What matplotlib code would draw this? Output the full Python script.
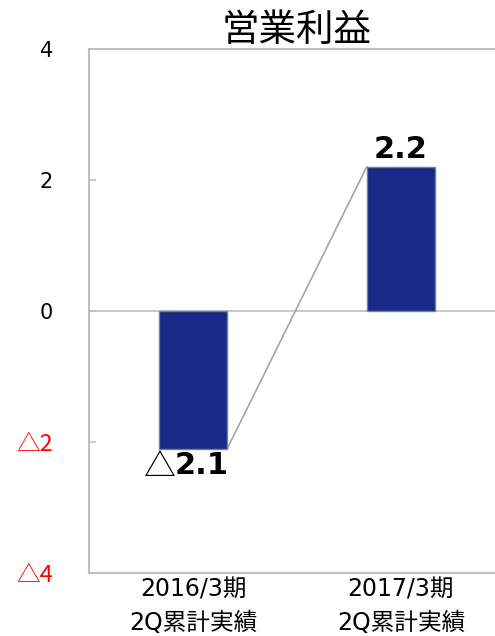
import matplotlib
matplotlib.use("Agg")
import matplotlib.pyplot as plt

# 営業利益（億円）
periods = ["2016/3期\n2Q累計実績", "2017/3期\n2Q累計実績"]
profit = [-2.1, 2.2]
tick_values = [-4, -2, 0, 2, 4]


def fmt(v):
    # マイナスは△で表示
    return "△" + f"{abs(v):g}" if v < 0 else f"{v:g}"


plt.rcParams['font.family'] = ['DejaVu Sans', 'Noto Sans CJK JP']
cjk = ['Noto Sans CJK JP']

bar_color = '#172A88'
grid_gray = '#BFBFBF'

fig = plt.figure(figsize=(4.95, 6.36), dpi=100)
ax = fig.add_axes([0.1798, 0.0991, 0.8404, 0.8239])

x = list(range(len(periods)))
width = 0.33
ax.bar(x, profit, width=width, color=bar_color, edgecolor='#808080', linewidth=1.0, zorder=3)

# 棒と棒をつなぐ線
ax.plot([x[0] + width / 2, x[1] - width / 2], [profit[0], profit[1]],
        color='#A6A6A6', linewidth=1.2, zorder=2)

ax.axhline(0, color=grid_gray, linewidth=1.2, zorder=1)

ax.set_xlim(-0.5, 1.5)
ax.set_ylim(-4, 4)
ax.set_yticks(tick_values)
ax.set_yticklabels([fmt(v) for v in tick_values], fontsize=15)
for lbl, v in zip(ax.get_yticklabels(), tick_values):
    if v < 0:
        lbl.set_color('red')
        lbl.set_family(cjk)
        lbl.set_fontsize(17)
ax.tick_params(axis='y', direction='in', length=5, width=1.2, color=grid_gray, pad=26)

ax.set_xticks(x)
ax.set_xticklabels(periods, fontsize=17, linespacing=1.5)
ax.tick_params(axis='x', length=0, pad=3)

for side in ['left', 'top', 'bottom']:
    ax.spines[side].set_color(grid_gray)
    ax.spines[side].set_linewidth(1.5)
ax.spines['right'].set_visible(False)

# 数値ラベル
for xi, v in zip(x, profit):
    if v < 0:
        ax.annotate("△", (xi, v), xytext=(-13, -2), textcoords='offset points',
                    ha='right', va='top', fontsize=23, family=cjk)
        ax.annotate(f"{abs(v):g}", (xi, v), xytext=(-13, -2), textcoords='offset points',
                    ha='left', va='top', fontsize=22, fontweight='bold')
    else:
        ax.annotate(fmt(v), (xi, v), xytext=(0, 2), textcoords='offset points',
                    ha='center', va='bottom', fontsize=22, fontweight='bold')

ax.set_title("営業利益", fontsize=27, pad=2)

fig.savefig("out.png", dpi=100)
